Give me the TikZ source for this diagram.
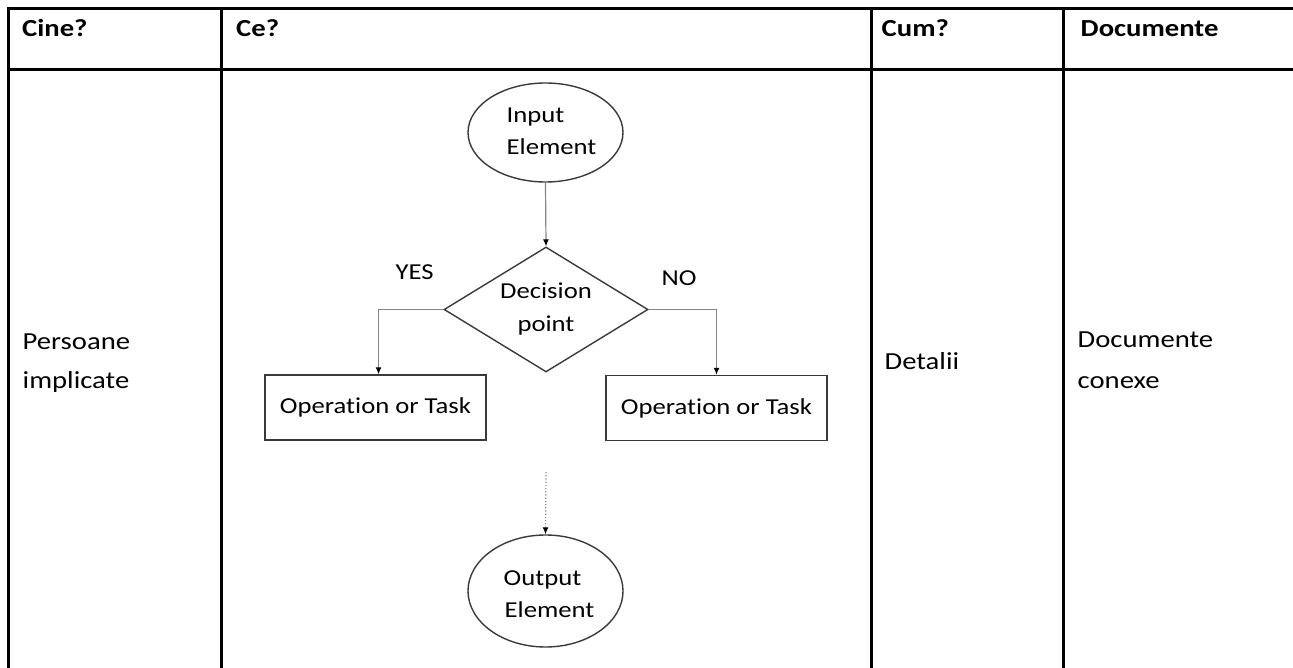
\documentclass[tikz,border=0pt]{standalone}
\usepackage{fontspec}
\setmainfont{Carlito}[FakeStretch=1.17,Ligatures=NoCommon]
\usetikzlibrary{shapes.geometric,arrows.meta}
\definecolor{shapegray}{HTML}{3A3A3A}
\definecolor{linkgray}{HTML}{858585}
\begin{document}
\begin{tikzpicture}[x=1pt,y=-1pt,
 gridline/.style={line width=3pt,black},
 head/.style={anchor=base west,inner sep=0,font=\fontsize{24.5}{30}\selectfont\bfseries},
 body/.style={anchor=base west,inner sep=0,font=\fontsize{24.5}{30}\selectfont},
 fc/.style={inner sep=0,font=\fontsize{22.8}{32}\selectfont},
 oval/.style={ellipse,draw=shapegray,line width=1.4pt,minimum width=155pt,inner sep=0},
 taskbox/.style={rectangle,draw=shapegray,line width=1.4pt,minimum width=221pt,minimum height=65pt,inner sep=0,font=\fontsize{22.8}{32}\selectfont},
 link/.style={draw=linkgray,line width=1.2pt,-{Latex[length=7pt,width=6pt,color=black]}},
]
\useasboundingbox (0,0) rectangle (1293,668);
% table grid
\draw[gridline] (7,9) -- (1296,9);
\draw[gridline] (7,70) -- (1296,70);
\foreach \x in {8.5,221.5,871,1063} \draw[gridline] (\x,7.5) -- (\x,671);
% header
\node[head] (h1) at (22,37) {Cine?};
\node[head] (h2) at (236,37) {Ce?};
\node[head] (h3) at (881.5,37) {Cum?};
\node[head] (h4) at (1080.5,37) {Documente};
% body texts
\node[body] (p1) at (22.5,349) {Persoane};
\node[body] (p2) at (22.5,388) {implicate};
\node[body] (d1) at (884.5,369) {Detalii};
\node[body] (c1) at (1077.5,348) {Documente};
\node[body] (c2) at (1077.5,388) {conexe};
% flowchart
\node[oval,minimum height=99pt] (in) at (545.5,132.5) {};
\node[fc,anchor=base west] (inA) at (506.5,123) {Input};
\node[fc,anchor=base west] (inB) at (506.5,155) {Element};
\node[diamond,draw=shapegray,line width=1.4pt,minimum width=204pt,minimum height=125pt,inner sep=0] (dec) at (546,309.5) {};
\node[fc,anchor=base] (decA) at (546,299) {Decision};
\node[fc,anchor=base] (decB) at (546,331) {point};
\node[fc,anchor=base west] (yes) at (395.5,280) {YES};
\node[fc,anchor=base west] (no) at (661.5,285.5) {NO};
\node[taskbox] (lt) at (375.5,407.5) {Operation or Task};
\node[taskbox] (rt) at (716.5,408) {Operation or Task};
\node[oval,minimum height=112pt] (out) at (545.5,591) {};
\node[fc,anchor=base west] (outA) at (503.5,585) {Output};
\node[fc,anchor=base west] (outB) at (504.5,617) {Element};
\coordinate (dots) at (546,472);
% connectors
\draw[link] (in.south) -- (dec.north);
\draw[link] (dec.west) -| ([xshift=3pt]lt.north);
\draw[link] (dec.east) -| (rt.north);
\draw[link,dotted] (dots) -- (out.north);
\end{tikzpicture}
\end{document}
